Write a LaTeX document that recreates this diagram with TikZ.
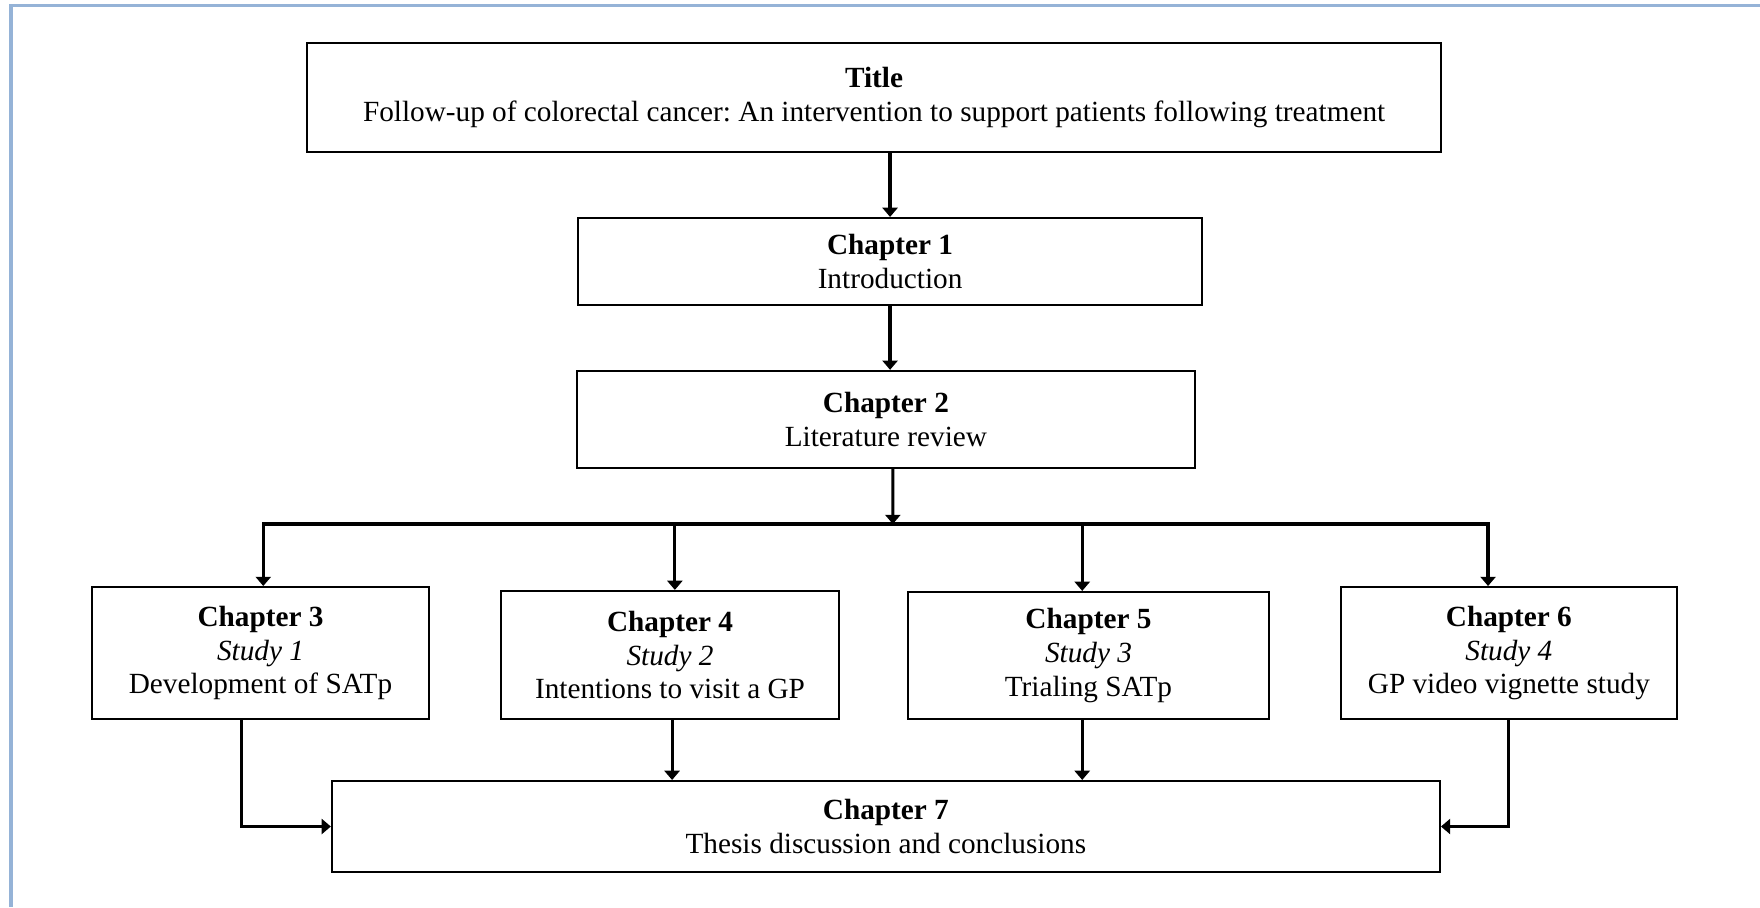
\documentclass[tikz,border=0pt]{standalone}
\usepackage{fontspec}
\setmainfont{Liberation Serif}
\usetikzlibrary{arrows.meta,positioning}
\definecolor{Frame}{HTML}{95B3D7}
\frenchspacing
\tikzset{>=Triangle,
 every node/.style={font=\fontsize{12}{13.8}\selectfont},
 arr/.style={-{Triangle[length=3.8pt,width=6.2pt]},line width=1.3pt},
 chap/.style={draw,line width=.9pt,align=center,inner sep=0pt},
 }

\begin{document}
\begin{tikzpicture}[x=1cm,y=1cm]
 \useasboundingbox (0,0) rectangle (25.37,-13.075);
 \draw[Frame,line width=1.45pt](.159,-13.075)--(.159,-.079)--(25.37,-.079);
 % boxes
 \node[chap,minimum width=16.35cm,minimum height=1.57cm](title)at(12.60,-1.405){\textbf{Title}\\Follow-up of colorectal cancer: An intervention to support patients following treatment};
 \node[chap,minimum width=9cm,minimum height=1.254cm](c1)at(12.83,-3.77){\textbf{Chapter 1}\\Introduction};
 \node[chap,minimum width=8.91cm,minimum height=1.4cm](c2)at(12.77,-6.047){\textbf{Chapter 2}\\Literature review};
 \node[chap,minimum width=4.86cm,minimum height=1.9cm](c3)at(3.755,-9.413){\textbf{Chapter 3}\\\textit{Study 1}\\Development of SATp};
 \node[chap,minimum width=4.87cm,minimum height=1.845cm](c4)at(9.658,-9.442){\textbf{Chapter 4}\\\textit{Study 2}\\Intentions to visit a GP};
 \node[chap,minimum width=5.2cm,minimum height=1.83cm](c5)at(15.69,-9.449){\textbf{Chapter 5}\\\textit{Study 3}\\Trialing SATp};
 \node[chap,minimum width=4.84cm,minimum height=1.9cm](c6)at(21.75,-9.413){\textbf{Chapter 6}\\\textit{Study 4}\\GP video vignette study};
 \node[chap,minimum width=15.97cm,minimum height=1.31cm](c7)at(12.77,-11.914){\textbf{Chapter 7}\\Thesis discussion and conclusions};
 % arrows
 \coordinate(bus)at(12.87,-7.554);
 \draw[arr](c1.north|-title.south)--(c1.north);
 \draw[arr](c1.south)--(c1.south|-c2.north);
 \draw[arr]([xshift=.1cm]c2.south)--(bus);
 \foreach \n/\dx in {c3/.04,c4/.07,c5/-.09,c6/-.3}
 \draw[arr](bus)-|([xshift=\dx cm]\n.north);
 \draw[arr]([xshift=-.27cm]c3.south)|-(c7.west);
 \draw[arr]([xshift=.03cm]c4.south)--([xshift=.03cm]c4.south|-c7.north);
 \draw[arr]([xshift=-.09cm]c5.south)--([xshift=-.09cm]c5.south|-c7.north);
 \draw[arr](c6.south)|-(c7.east);
\end{tikzpicture}
\end{document}
